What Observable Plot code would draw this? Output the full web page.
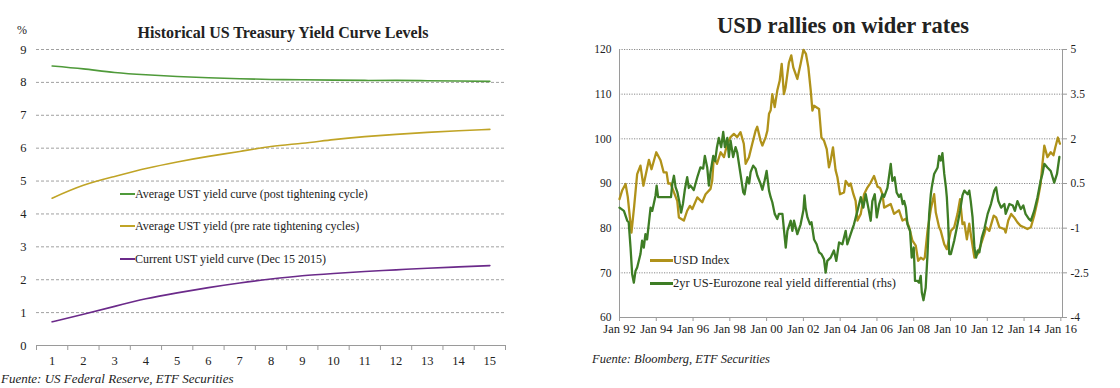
<!DOCTYPE html>
<html><head><meta charset="utf-8">
<script src="https://cdn.jsdelivr.net/npm/d3@7"></script>
<script src="https://cdn.jsdelivr.net/npm/@observablehq/plot@0.6"></script>
<style>
body{margin:0;background:#fff;}
#wrap{position:relative;width:1120px;height:388px;overflow:hidden;font-family:"Liberation Serif",serif;color:#222;background:#fff;}
.abs{position:absolute;white-space:nowrap;line-height:1;}
.plot{position:absolute;}
.leg{position:absolute;white-space:nowrap;line-height:1;display:flex;align-items:center;}
.leg i{display:inline-block;}
</style></head><body><div id="wrap">
<div class="abs" style="left:17px;top:24px;font-size:12px;">%</div>
<div class="abs" style="left:283px;top:25px;font-size:16px;font-weight:bold;transform:translateX(-50%);">Historical US Treasury Yield Curve Levels</div>
<div class="abs" style="left:843px;top:15px;font-size:22.5px;font-weight:bold;transform:translateX(-50%);">USD rallies on wider rates</div>
<div id="left" class="plot" style="left:0;top:40px;"></div>
<div id="right" class="plot" style="left:570px;top:40px;"></div>
<div class="leg" style="left:120px;top:188px;font-size:12px;"><i style="width:15px;height:1.6px;background:#4f9a3a"></i>Average UST yield curve (post tightening cycle)</div>
<div class="leg" style="left:120px;top:220px;font-size:12px;"><i style="width:15px;height:1.6px;background:#c0a426"></i>Average UST yield (pre rate tightening cycles)</div>
<div class="leg" style="left:120px;top:253px;font-size:12px;"><i style="width:15px;height:1.6px;background:#6b2a8a"></i>Current UST yield curve (Dec 15 2015)</div>
<div class="leg" style="left:650px;top:254px;font-size:12.5px;"><i style="width:23px;height:3px;background:#b0921a"></i>USD Index</div>
<div class="leg" style="left:650px;top:277px;font-size:12.5px;"><i style="width:23px;height:3px;background:#3e7d25"></i>2yr US-Eurozone real yield differential (rhs)</div>
<div class="abs" style="left:1px;top:372px;font-size:13px;font-style:italic;">Fuente: US Federal Reserve, ETF Securities</div>
<div class="abs" style="left:592px;top:353px;font-size:12.5px;font-style:italic;">Fuente: Bloomberg, ETF Securities</div>
</div>
<script>
// ---- Left chart data ----
const maturities = [1,2,3,4,5,6,7,8,9,10,11,12,13,14,15];
const postTightening = [8.50,8.41,8.30,8.23,8.18,8.14,8.11,8.09,8.08,8.07,8.06,8.06,8.05,8.04,8.03];
const preTightening = [4.48,4.87,5.14,5.38,5.58,5.75,5.90,6.05,6.15,6.26,6.35,6.42,6.48,6.53,6.57];
const currentCurve = [0.72,0.95,1.19,1.42,1.60,1.76,1.90,2.02,2.12,2.19,2.25,2.30,2.35,2.39,2.43];
const yieldTicks = [0,1,2,3,4,5,6,7,8,9];

// ---- Right chart data ----
const usdTime = [1992.0,1992.15,1992.33,1992.45,1992.65,1992.8,1992.96,1993.14,1993.3,1993.6,1993.74,1994.0,1994.23,1994.4,1994.56,1994.65,1994.78,1994.96,1995.14,1995.23,1995.5,1995.68,1995.83,1995.96,1996.23,1996.5,1996.68,1996.95,1997.04,1997.13,1997.3,1997.5,1997.68,1997.86,1998.04,1998.22,1998.4,1998.58,1998.76,1998.86,1999.04,1999.22,1999.4,1999.49,1999.67,1999.77,1999.95,2000.04,2000.13,2000.22,2000.31,2000.44,2000.58,2000.71,2000.82,2000.94,2001.03,2001.21,2001.34,2001.45,2001.67,2001.85,2002.0,2002.14,2002.27,2002.4,2002.49,2002.58,2002.85,2002.98,2003.12,2003.27,2003.39,2003.48,2003.61,2003.75,2003.85,2003.99,2004.21,2004.3,2004.48,2004.57,2004.72,2004.84,2004.94,2005.12,2005.3,2005.48,2005.66,2005.84,2006.03,2006.17,2006.3,2006.39,2006.75,2006.93,2007.2,2007.39,2007.57,2007.75,2007.93,2008.11,2008.24,2008.38,2008.53,2008.6,2008.75,2008.93,2009.11,2009.2,2009.38,2009.47,2009.66,2009.8,2010.02,2010.2,2010.38,2010.52,2010.65,2010.75,2010.89,2011.02,2011.1,2011.3,2011.48,2011.66,2011.84,2011.93,2012.11,2012.35,2012.48,2012.66,2012.93,2013.0,2013.14,2013.3,2013.46,2013.64,2013.82,2014.0,2014.18,2014.37,2014.55,2014.73,2014.9,2015.0,2015.1,2015.27,2015.45,2015.6,2015.7,2015.84,2015.95];
const usdIndex = [86.5,88.5,89.9,87,79.0,85,92.1,94.0,89.5,95.3,93.2,97,95.2,92.5,92.5,90,90,88,86.1,82.4,81.7,83.9,85,84.3,86.9,85.8,87.6,88.8,90.6,95.9,94.4,97,95.9,98.9,100.4,101.1,100.4,101.5,98.9,94.4,95.9,98.9,101.8,102.7,99.6,98.5,100.4,101.8,105.6,106.4,110,107.1,110.8,113,116.8,110,111.5,117,118.7,116,113.4,116.8,119.9,119,116,110.8,106.3,107.4,106.7,100.3,99.6,97.7,93.6,95.1,98.1,93,91.4,87.6,88,90.6,89.5,90,87.6,86.1,81.7,83.2,87.6,89.1,90.2,91.7,89.3,89,87.6,84.6,85.4,83.2,84,81.7,82.1,80.2,77.2,76.1,72.7,73.4,73,73.4,79.4,84.3,87.6,83.5,80.2,79.4,76.4,75.3,79.4,80.2,83.2,86.5,80.9,81.3,77.5,81,78.7,73.4,74.2,76.4,78.7,80.2,79.4,82.8,82.4,80.2,79.8,79,81.7,83.2,82.4,81.3,80.5,80.2,79.8,80.2,82.8,86.1,89.9,94.4,98.5,95.9,97,96.3,98.1,100.3,98.9];

const diffTime = [1992.0,1992.24,1992.42,1992.5,1992.6,1992.69,1992.78,1992.87,1992.96,1993.14,1993.23,1993.32,1993.41,1993.5,1993.69,1993.78,1993.96,1994.02,1994.1,1994.8,1994.87,1994.96,1995.05,1995.15,1995.25,1995.35,1995.45,1995.55,1995.68,1995.77,1995.86,1996.04,1996.23,1996.4,1996.55,1996.64,1996.77,1996.86,1996.95,1997.1,1997.2,1997.3,1997.4,1997.53,1997.64,1997.73,1997.86,1997.95,1998.04,1998.18,1998.31,1998.4,1998.58,1998.73,1998.8,1998.95,1999.05,1999.13,1999.27,1999.4,1999.49,1999.67,1999.77,1999.89,2000.0,2000.13,2000.22,2000.31,2000.44,2000.58,2000.67,2000.86,2000.95,2001.04,2001.13,2001.31,2001.4,2001.49,2001.67,2001.85,2002.0,2002.06,2002.12,2002.22,2002.36,2002.44,2002.58,2002.72,2002.85,2002.98,2003.12,2003.21,2003.3,2003.48,2003.66,2003.79,2003.94,2004.12,2004.3,2004.39,2004.57,2004.75,2004.94,2005.12,2005.26,2005.39,2005.53,2005.66,2005.75,2005.88,2005.99,2006.12,2006.3,2006.39,2006.57,2006.75,2006.84,2006.96,2007.07,2007.2,2007.3,2007.4,2007.48,2007.57,2007.66,2007.8,2007.89,2008.0,2008.07,2008.2,2008.29,2008.38,2008.44,2008.53,2008.65,2008.75,2008.84,2008.93,2008.98,2009.11,2009.3,2009.38,2009.47,2009.56,2009.66,2009.75,2009.8,2009.87,2009.93,2010.02,2010.2,2010.38,2010.52,2010.65,2010.75,2010.93,2011.02,2011.1,2011.2,2011.3,2011.39,2011.48,2011.57,2011.7,2011.84,2012.02,2012.2,2012.38,2012.48,2012.6,2012.75,2012.93,2013.0,2013.2,2013.39,2013.5,2013.64,2013.82,2013.96,2014.08,2014.26,2014.37,2014.55,2014.73,2014.9,2015.0,2015.1,2015.27,2015.45,2015.64,2015.79,2015.92];
const diffValue = [-0.31,-0.42,-0.75,-0.80,-1.65,-2.55,-2.83,-2.44,-2.32,-1.87,-1.42,-1.65,-1.20,-1.38,-0.31,-0.42,0.10,0.43,0.04,0.04,0.49,0.76,0.38,0.20,-0.10,-0.48,-0.18,0.28,0.71,0.35,0.43,0.28,0.71,1.04,1.00,1.43,1.04,0.43,0.88,1.43,1.25,1.72,2.03,1.72,2.23,1.72,2.03,1.39,1.94,1.39,1.72,1.55,0.82,0.20,0.14,0.71,0.50,0.88,1.10,1.00,0.77,0.49,0.29,0.59,0.92,0.26,0.04,-0.13,-0.52,-0.69,-0.52,-0.52,-1.09,-1.65,-1.09,-0.75,-1.09,-0.75,-1.20,-0.87,-0.40,0.10,-0.31,-0.64,-0.87,-0.80,-1.38,-1.54,-1.81,-1.87,-2.04,-2.49,-2.10,-1.99,-1.75,-2.10,-1.48,-1.54,-1.09,-1.54,-1.20,-0.87,-0.42,0.04,-0.31,0.14,-0.31,-0.75,-0.09,0.14,-0.64,-0.19,0.14,0.05,0.35,1.16,0.59,0.71,0.20,0.05,0.14,-0.19,-0.09,-0.31,-0.87,-1.09,-1.99,-1.65,-2.77,-2.77,-2.83,-2.60,-3.16,-3.42,-3.00,-1.87,-0.52,0.14,0.37,0.82,1.04,1.43,1.27,1.52,0.82,0.37,0.04,-0.75,-1.87,-1.87,-1.42,-0.87,-0.42,0.10,0.26,0.14,0.26,-0.09,-0.64,-1.65,-1.99,-1.75,-1.81,-1.32,-1.03,-0.52,-0.19,0.26,0.37,-0.09,-0.31,-0.19,-0.52,-0.19,-0.24,-0.42,-0.09,-0.36,-0.24,-0.52,-0.69,-0.75,-0.42,0.04,0.59,0.82,1.16,1.04,0.92,0.53,0.82,1.39];

const yearTicks = [1992,1994,1996,1998,2000,2002,2004,2006,2008,2010,2012,2014,2016];
const yearLabels = ["Jan 92","Jan 94","Jan 96","Jan 98","Jan 00","Jan 02","Jan 04","Jan 06","Jan 08","Jan 10","Jan 12","Jan 14","Jan 16"];
const usdTicks = [60,70,80,90,100,110,120];
const rhsTicks = [-4,-2.5,-1,0.5,2,3.5,5];
const rhsLabels = ["-4","-2.5","-1","0.5","2","3.5","5"];

// ---- Left chart ----
const curves = maturities.map((m, i) => ({m, post: postTightening[i], pre: preTightening[i], cur: currentCurve[i]}));
const font = "Liberation Serif, serif";
const left = Plot.plot({
  width: 520, height: 335,
  marginTop: 9, marginBottom: 30, marginLeft: 36, marginRight: 15,
  style: {fontFamily: font, fontSize: "12px", color: "#222", background: "transparent"},
  x: {type: "linear", domain: [0.5, 15.5]},
  y: {domain: [0, 9]},
  marks: [
    Plot.ruleY(yieldTicks.filter(d => d > 0), {stroke: "#a0a0a0", strokeDasharray: "3,2", strokeWidth: 1}),
    Plot.ruleY([0], {stroke: "#9a9a9a"}),
    Plot.axisY(yieldTicks, {tickSize: 0, tickPadding: 10, label: null, fontSize: 12.5}),
    Plot.axisX(d3.range(0.5, 15.6, 1), {tickSize: 5, stroke: "#9a9a9a", tickFormat: () => "", label: null}),
    Plot.axisX(maturities, {tickSize: 0, tickPadding: 11, label: null, fontSize: 12.5, tickFormat: d => String(d)}),
    Plot.line(curves, {x: "m", y: "post", curve: "natural", stroke: "#4f9a3a", strokeWidth: 1.6}),
    Plot.line(curves, {x: "m", y: "pre", curve: "natural", stroke: "#c0a426", strokeWidth: 1.6}),
    Plot.line(curves, {x: "m", y: "cur", curve: "natural", stroke: "#6b2a8a", strokeWidth: 1.6})
  ]
});
document.getElementById("left").append(left);

// ---- Right chart ----
const toLeft = r => 60 + (r + 4) / 0.15;
const usd = usdTime.map((t, i) => ({t, v: usdIndex[i]}));
const diff = diffTime.map((t, i) => ({t, v: diffValue[i]}));
const right = Plot.plot({
  width: 550, height: 305,
  marginTop: 9, marginBottom: 28, marginLeft: 49, marginRight: 58,
  style: {fontFamily: font, fontSize: "11px", color: "#222", background: "transparent"},
  x: {domain: [1992, 2016.09]},
  y: {domain: [60, 120]},
  marks: [
    Plot.ruleY(usdTicks.filter(d => d > 60), {stroke: "#8a8a8a", strokeDasharray: "1.2,1.3", strokeWidth: 1}),
    Plot.frame({anchor: "left", stroke: "#9a9a9a"}),
    Plot.frame({anchor: "right", stroke: "#9a9a9a"}),
    Plot.frame({anchor: "bottom", stroke: "#9a9a9a"}),
    Plot.axisY(usdTicks, {anchor: "left", tickSize: 0, tickPadding: 8, label: null, fontSize: 11.5}),
    Plot.axisY(rhsTicks.map(toLeft), {anchor: "right", tickSize: 4, stroke: "#9a9a9a", tickPadding: 4, label: null, fontSize: 11.5, tickFormat: (d, i) => rhsLabels[i]}),
    Plot.axisX(yearTicks, {tickSize: 4, stroke: "#9a9a9a", tickPadding: 3, label: null, fontSize: 12.5, tickFormat: (d, i) => yearLabels[i]}),
    Plot.line(usd, {x: "t", y: "v", stroke: "#b0921a", strokeWidth: 2.3}),
    Plot.line(diff, {x: "t", y: d => toLeft(d.v), stroke: "#3e7d25", strokeWidth: 2.3})
  ]
});
document.getElementById("right").append(right);
</script>
</body></html>
